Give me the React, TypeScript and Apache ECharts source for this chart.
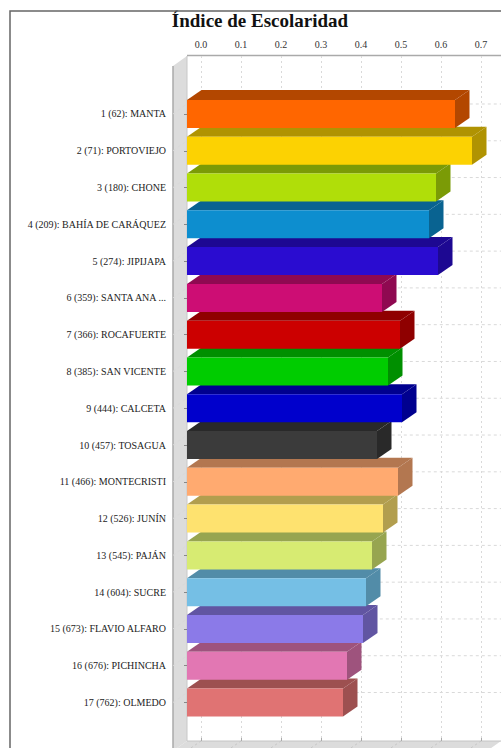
import React, { useEffect, useRef } from "react";
import * as echarts from "echarts";

const categories = [
  "1 (62): MANTA", "2 (71): PORTOVIEJO", "3 (180): CHONE", "4 (209): BAHÍA DE CARÁQUEZ",
  "5 (274): JIPIJAPA", "6 (359): SANTA ANA ...", "7 (366): ROCAFUERTE", "8 (385): SAN VICENTE",
  "9 (444): CALCETA", "10 (457): TOSAGUA", "11 (466): MONTECRISTI", "12 (526): JUNÍN",
  "13 (545): PAJÁN", "14 (604): SUCRE", "15 (673): FLAVIO ALFARO", "16 (676): PICHINCHA",
  "17 (762): OLMEDO",
];
const values = [0.67, 0.7125, 0.6225, 0.605, 0.6275, 0.4875, 0.5325, 0.5025, 0.5375, 0.475, 0.5275, 0.49, 0.4625, 0.4475, 0.44, 0.4, 0.39];
const frontColors = ["#FF6600", "#FCD202", "#B0DE09", "#0D8ECF", "#2A0CD0", "#CD0D74", "#CC0000", "#00CC00", "#0000CC", "#3B3B3B", "#FFAA70", "#FEE26F", "#D7EB72", "#75BFE5", "#8B7AE8", "#E277B3", "#E07373"];
const sideColors = ["#B34700", "#B09302", "#7B9B06", "#096391", "#1D0892", "#8F0951", "#8F0000", "#008F00", "#00008F", "#292929", "#B37750", "#B29E4E", "#97A550", "#528CA8", "#6155A2", "#9E537D", "#9D5050"];
const xTicks = [0, 0.1, 0.2, 0.3, 0.4, 0.5, 0.6, 0.7];

const DX = 14.5;
const DY = 10;
const BAR_H = 28;
const WALL = 14;
const SERIF = "'Liberation Serif', serif";
const GRID_DASH = "#d9d9d9";

export default function App() {
  const ref = useRef<HTMLDivElement>(null);
  useEffect(() => {
    const chart = echarts.init(ref.current!, null, { renderer: "svg" });
    const barData = values.map((v, i) => [v, i]).reverse();
    chart.setOption({
      animation: false,
      backgroundColor: "#ffffff",
      title: {
        text: "Índice de Escolaridad",
        left: 260,
        top: 11,
        padding: 0,
        textAlign: "center",
        textStyle: { fontFamily: SERIF, fontSize: 19, fontWeight: "bold", color: "#111" },
      },
      grid: [
        { left: 201, top: 56, width: 320, height: 685, outerBoundsMode: "none" },
        { left: 187, top: 95.6, width: 320, height: 625.3, outerBoundsMode: "none" },
      ],
      xAxis: [
        {
          gridIndex: 0, type: "value", position: "top", min: 0, max: 0.8, interval: 0.1,
          axisLine: { show: false },
          axisTick: { show: true, length: 3, lineStyle: { color: "#aaa" } },
          axisLabel: {
            margin: 7, showMaxLabel: false, fontFamily: SERIF, fontSize: 10, color: "#333",
            formatter: (v: number) => (xTicks.some((t) => Math.abs(t - v) < 1e-6) ? v.toFixed(1) : ""),
          },
          splitLine: { show: true, lineStyle: { type: [2, 3], color: GRID_DASH, width: 1 } },
        },
        { gridIndex: 1, type: "value", min: 0, max: 0.8, show: false },
      ],
      yAxis: [
        { gridIndex: 0, type: "value", min: 0, max: 1, show: false },
        {
          gridIndex: 1, type: "category", inverse: true, data: categories, offset: WALL,
          axisLine: { show: false },
          axisTick: { show: true, alignWithLabel: true, length: 3, lineStyle: { color: "#888" } },
          axisLabel: { margin: 7, interval: 0, fontFamily: SERIF, fontSize: 10, color: "#222" },
          splitLine: { show: false },
        },
      ],
      graphic: {
        elements: [
          { type: "polygon", z: -10, shape: { points: [[173, 66], [187, 56], [187, 741], [173, 751]] }, style: { fill: "#dcdcdc" } },
          { type: "polygon", z: -10, shape: { points: [[187, 741], [501, 741], [487, 751], [173, 751]] }, style: { fill: "#dcdcdc" } },
          { type: "line", z: -9, shape: { x1: 173, y1: 66, x2: 173, y2: 748 }, style: { stroke: "#aaaaaa", lineWidth: 1.5 } },
          { type: "line", z: -9, shape: { x1: 187, y1: 56, x2: 187, y2: 741 }, style: { stroke: "#c8c8c8", lineWidth: 1 } },
          { type: "line", z: -9, shape: { x1: 187, y1: 55.5, x2: 501, y2: 55.5 }, style: { stroke: "#aaaaaa", lineWidth: 1.5 } },
          { type: "line", z: -9, shape: { x1: 187, y1: 741, x2: 501, y2: 741 }, style: { stroke: "#c4c4c4", lineWidth: 1 } },
          { type: "rect", z: 20, shape: { x: 10, y: 11, width: 600, height: 800 }, style: { fill: "none", stroke: "#666666", lineWidth: 1.5 } },
        ],
      },
      series: [
        {
          type: "custom", xAxisIndex: 1, yAxisIndex: 1, silent: true, z: 1,
          data: categories.map((_, i) => [0, i]),
          renderItem: (_p: any, api: any) => {
            const [x, y] = api.coord([0, api.value(1)]);
            return {
              type: "polyline",
              shape: { points: [[x - WALL, y], [x, y - DY], [521, y - DY]] },
              style: { fill: "none", stroke: GRID_DASH, lineWidth: 1, lineDash: [3, 3] },
            };
          },
        },
        {
          type: "custom", xAxisIndex: 0, yAxisIndex: 0, silent: true, z: 1,
          data: xTicks.map((t) => [t, 0]),
          renderItem: (_p: any, api: any) => {
            const [x, y] = api.coord([api.value(0), 0]);
            return {
              type: "line",
              shape: { x1: x, y1: y, x2: x - DX, y2: y + DY },
              style: { stroke: "#c4c4c4", lineWidth: 1, lineDash: [2, 3] },
            };
          },
        },
        {
          type: "custom", xAxisIndex: 1, yAxisIndex: 1, silent: true, z: 3,
          data: barData,
          renderItem: (_p: any, api: any) => {
            const i = api.value(1);
            const [x0, yc] = api.coord([0, i]);
            const [x1] = api.coord([api.value(0), i]);
            const t = yc - BAR_H / 2;
            const b = yc + BAR_H / 2;
            return {
              type: "group",
              children: [
                { type: "polygon", shape: { points: [[x0, t], [x0 + DX, t - DY], [x1 + DX, t - DY], [x1, t]] }, style: { fill: sideColors[i] } },
                { type: "polygon", shape: { points: [[x1, t], [x1 + DX, t - DY], [x1 + DX, b - DY], [x1, b]] }, style: { fill: sideColors[i] } },
                { type: "rect", shape: { x: x0, y: t, width: x1 - x0, height: BAR_H }, style: { fill: frontColors[i] } },
              ],
            };
          },
        },
      ],
    });
    return () => chart.dispose();
  }, []);
  return <div ref={ref} style={{ position: "absolute", left: 0, top: 0, width: 501, height: 748 }} />;
}
